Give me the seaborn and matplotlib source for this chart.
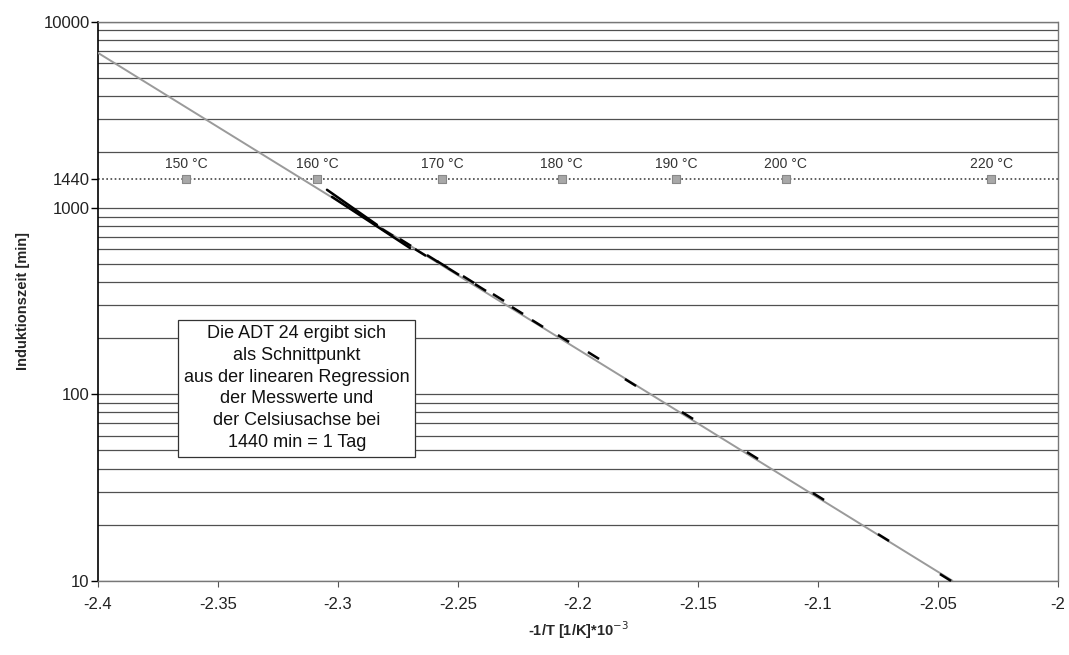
import numpy as np
import pandas as pd
import matplotlib
matplotlib.use("Agg")
import matplotlib.pyplot as plt
import matplotlib.ticker as mticker
import seaborn as sns

# ---------------- data ----------------
# regression line (ends)
reg_x = [-2.4, -2.044]
reg_y = [6800, 10]

# measured values (dash marks along the line)
meas_x = [-2.2796, -2.2721, -2.2658, -2.2608, -2.2567, -2.2521, -2.2458, -2.2408,
          -2.2333, -2.2254, -2.2171, -2.2063, -2.1938, -2.1783, -2.1546, -2.1275,
          -2.1000, -2.0729, -2.0471]
meas_y = [744, 658, 581, 540, 501, 460, 416, 377, 333, 284, 242, 201, 163, 117,
          77.5, 47.3, 28.5, 17.2, 10.5]

# two short measured curves at the upper end
curveA_x = [-2.3046, -2.2838]
curveA_y = [1253, 813]
curveB_x = [-2.3025, -2.2700]
curveB_y = [1148, 610]

# Celsius axis at 1440 min
temps_c = [150, 160, 170, 180, 190, 200, 220]
day_min = 1440

y_ticks = [10, 100, 1000, 1440, 10000]
x_ticks = [-2.4, -2.35, -2.3, -2.25, -2.2, -2.15, -2.1, -2.05, -2.0]

box_text = ("Die ADT 24 ergibt sich\nals Schnittpunkt\naus der linearen Regression\n"
            "der Messwerte und\nder Celsiusachse bei\n1440 min = 1 Tag")

# ---------------- plotting ----------------
sns.set_theme(style="white")
plt.rcParams['font.family'] = ['Liberation Sans', 'DejaVu Sans']
plt.rcParams['axes.unicode_minus'] = False

fig = plt.figure(figsize=(10.69, 6.55), dpi=100)
ax = fig.add_axes([0.0917, 0.1134, 0.8980, 0.8535])

ax.set_yscale('log')
ax.set_xlim(-2.4, -2.0)
ax.set_ylim(10, 10000)

# grid: all 1..9 multiples of each decade
ax.yaxis.set_minor_locator(mticker.LogLocator(base=10, subs=np.arange(1, 10)))
ax.yaxis.remove_overlapping_locs = False
ax.yaxis.set_major_locator(mticker.FixedLocator(y_ticks))
ax.yaxis.set_major_formatter(mticker.FuncFormatter(lambda v, p: f"{v:g}"))
ax.yaxis.set_minor_formatter(mticker.NullFormatter())
ax.grid(False)
ax.yaxis.grid(True, which='minor', color='#505050', lw=0.9)
ax.tick_params(axis='y', which='minor', length=0)
ax.tick_params(axis='y', which='major', length=5, width=1, color='black',
               labelsize=12, pad=1, left=True, labelcolor='#222222')

ax.xaxis.set_major_locator(mticker.FixedLocator(x_ticks))
ax.xaxis.set_major_formatter(mticker.FuncFormatter(lambda v, p: f"{v:g}"))
ax.tick_params(axis='x', which='major', length=4, width=0.8, color='#555555',
               labelsize=12, pad=8, bottom=True, labelcolor='#222222')

# spines
ax.spines['left'].set_color('black')
ax.spines['left'].set_linewidth(1.2)
for s in ['right', 'top', 'bottom']:
    ax.spines[s].set_color('#777777')
    ax.spines[s].set_linestyle((0, (1, 1)))
    ax.spines[s].set_linewidth(1.0)

# dotted Celsius line at 1440
ax.axhline(day_min, color='#444444', lw=1.2, ls=(0, (1, 1.5)), zorder=2)

# regression line
sns.lineplot(x=reg_x, y=reg_y, ax=ax, color='#9a9a9a', lw=1.4, zorder=3,
             estimator=None, sort=False)

# short measured curves
sns.lineplot(x=curveA_x, y=curveA_y, ax=ax, color='black', lw=1.8, zorder=4,
             estimator=None, sort=False)
sns.lineplot(x=curveB_x, y=curveB_y, ax=ax, color='black', lw=1.8, zorder=4,
             estimator=None, sort=False)

# dash marks (measured values)
dash = [(-1.0, 0.62), (1.0, -0.62)]
ax.plot(meas_x, meas_y, ls='none', marker=dash, markersize=8,
        markeredgewidth=1.8, color='black', zorder=5)

# temperature markers
temp_x = [-1000.0 / (t + 273.15) for t in temps_c]
df_t = pd.DataFrame({'x': temp_x, 'y': [day_min] * len(temps_c)})
sns.scatterplot(data=df_t, x='x', y='y', ax=ax, marker='s', s=32,
                color='#a8a8a8', edgecolor='#888888', linewidth=0.8, zorder=6)
for t, xv in zip(temps_c, temp_x):
    ax.text(xv, day_min * 1.10, f"{t} °C", ha='center', va='bottom',
            fontsize=10, color='#333333', zorder=7)

# text box
ax.text(-2.3172, 108, box_text, ha='center', va='center', fontsize=13,
        linespacing=1.36, color='#111111', zorder=8,
        bbox=dict(boxstyle='square,pad=0.32', fc='white', ec='#333333', lw=0.9))

ax.set_ylabel("Induktionszeit [min]", fontsize=10.5, fontweight='bold', labelpad=10)
ax.set_xlabel("-1/T [1/K]*10$^{-3}$", fontsize=10.5, fontweight='bold', labelpad=5)

fig.savefig("out.png", dpi=100)
